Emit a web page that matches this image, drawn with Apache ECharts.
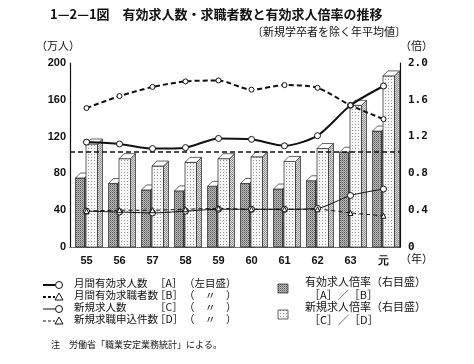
<!DOCTYPE html>
<html><head><meta charset="utf-8">
<script src="https://cdn.jsdelivr.net/npm/echarts@6/dist/echarts.min.js"></script>
<style>html,body{margin:0;padding:0;background:#fff}#c{width:474px;height:364px}</style>
</head><body><div id="c"></div>
<script>
const categories = ['55','56','57','58','59','60','61','62','63','元'];
const openingsA   = [114, 112, 107, 108, 118, 117, 110, 121, 154, 175];
const applicantsB = [151, 164, 174, 180, 181, 171, 176, 173, 154, 139];
const newOpeningsC = [39, 38, 37, 39, 41, 41, 41, 42, 56, 63];
const newApplicationsD = [39, 40, 40, 41, 42, 41, 41, 41, 37, 34];
const ratioAB = [0.75, 0.69, 0.62, 0.61, 0.66, 0.69, 0.63, 0.72, 1.03, 1.26];
const ratioCD = [1.12, 0.96, 0.88, 0.92, 0.96, 0.98, 0.93, 1.07, 1.54, 1.86];
const leftTicks = [0, 40, 80, 120, 160, 200];
const rightTicks = [0, 0.4, 0.8, 1.2, 1.6, 2.0];
const refLineValue = 103;

function makePattern(cells, size){
  const cv = document.createElement('canvas');
  cv.width = size; cv.height = size;
  const ctx = cv.getContext('2d');
  for (let y=0;y<size;y++) for (let x=0;x<size;x++){
    ctx.fillStyle = cells[y*size+x];
    ctx.fillRect(x,y,1,1);
  }
  return {image: cv, repeat: 'repeat'};
}
const darkFront = makePattern(['#555','#bbb','#bbb','#888'],2);
const lightFront = makePattern(['#f6f6f6','#f6f6f6','#f6f6f6','#f6f6f6','#999','#f6f6f6','#f6f6f6','#f6f6f6','#f6f6f6'],3);
const darkSide = makePattern(['#444','#888','#888','#555'],2);
const lightSide = makePattern(['#888','#ddd','#ddd','#999'],2);

function makeBar(dx, w, front, side, top){
  return function(params, api){
    const i = api.value(0), v = api.value(1);
    const p = api.coord([i, v]); const b = api.coord([i, 0]);
    const x0 = p[0] + dx, x1 = x0 + w, yt = p[1], yb = b[1], d = 5;
    const st = {stroke:'#222', lineWidth:0.7};
    return {type:'group', children:[
      {type:'polygon', shape:{points:[[x1,yt],[x1+d,yt-d],[x1+d,yb],[x1,yb]]}, style:Object.assign({fill:side}, st)},
      {type:'rect', shape:{x:x0,y:yt,width:w,height:yb-yt}, style:Object.assign({fill:front}, st)},
      {type:'polygon', shape:{points:[[x0,yt],[x0+d,yt-d],[x1+d,yt-d],[x1,yt]]}, style:Object.assign({fill:top}, st)}
    ]};
  };
}

const FONT = '"Noto Sans CJK JP", sans-serif';
const chart = echarts.init(document.getElementById('c'), null, {renderer:'canvas'});

const legendRows = [
  {name:'月間有効求人数', key:'［A］', note:'（左目盛）', dash:false, w:2, sym:'circle'},
  {name:'月間有効求職者数', key:'［B］', note:'（　〃　）', dash:true, w:2, sym:'triangle'},
  {name:'新規求人数', key:'［C］', note:'（　〃　）', dash:false, w:1, sym:'circle'},
  {name:'新規求職申込件数', key:'［D］', note:'（　〃　）', dash:true, w:1, sym:'triangle'}
];
const rowY = [285, 297, 309, 321];
const graphics = [];
legendRows.forEach((r, k) => {
  const y = rowY[k];
  graphics.push({type:'line', shape:{x1:43,y1:y,x2:55,y2:y}, style:{stroke:'#111', lineWidth:r.w, lineDash: r.dash?[3,2]:null}});
  if (r.sym === 'circle') graphics.push({type:'circle', shape:{cx:59,cy:y,r:3.5}, style:{fill:'#fff', stroke:'#111', lineWidth:1}});
  else graphics.push({type:'polygon', shape:{points:[[59,y-4],[55,y+3],[63,y+3]]}, style:{fill:'#fff', stroke:'#111', lineWidth:1}});
  graphics.push({type:'text', left:74, top:y-7, style:{text:r.name, font:'10.5px '+FONT, fill:'#111'}});
  graphics.push({type:'text', left:155, top:y-7, style:{text:r.key, font:'10.5px '+FONT, fill:'#111'}});
  graphics.push({type:'text', left:184, top:y-7, style:{text:r.note, font:'10.5px '+FONT, fill:'#111'}});
});
graphics.push({type:'rect', shape:{x:278,y:284,width:10,height:9}, style:{fill:darkFront, stroke:'#222', lineWidth:0.7}});
graphics.push({type:'rect', shape:{x:278,y:310,width:10,height:9}, style:{fill:lightFront, stroke:'#222', lineWidth:0.7}});
graphics.push({type:'text', left:305, top:276, style:{text:'有効求人倍率（右目盛）', font:'11px '+FONT, fill:'#111'}});
graphics.push({type:'text', left:309, top:289, style:{text:'［A］／［B］', font:'11px '+FONT, fill:'#111'}});
graphics.push({type:'text', left:305, top:301, style:{text:'新規求人倍率（右目盛）', font:'11px '+FONT, fill:'#111'}});
graphics.push({type:'text', left:309, top:314, style:{text:'［C］／［D］', font:'11px '+FONT, fill:'#111'}});
graphics.push({type:'text', left:51, top:340, style:{text:'注　労働省「職業安定業務統計」による。', font:'9px '+FONT, fill:'#111'}});
graphics.push({type:'text', left:50, top:8, style:{text:'1—2—1図　有効求人数・求職者数と有効求人倍率の推移', font:'bold 13px '+FONT, fill:'#111'}});
graphics.push({type:'text', left:252, top:26, style:{text:'〔新規学卒者を除く年平均値〕', font:'11px '+FONT, fill:'#111'}});
graphics.push({type:'text', left:36, top:40, style:{text:'（万人）', font:'11px '+FONT, fill:'#111'}});
graphics.push({type:'text', left:400, top:40, style:{text:'（倍）', font:'11px '+FONT, fill:'#111'}});
graphics.push({type:'text', left:400, top:253, style:{text:'（年）', font:'11px '+FONT, fill:'#111'}});

const option = {
  animation:false,
  backgroundColor:'#fff',
  textStyle:{fontFamily:FONT},
  grid:{left:70, right:74, top:63, bottom:117, show:false},
  xAxis:[{
    type:'category', data:categories, boundaryGap:true,
    axisLine:{lineStyle:{color:'#111', width:1.2}}, axisTick:{show:false},
    axisLabel:{color:'#111', fontSize:11, fontWeight:'bold', fontFamily:'Liberation Sans', margin:8}
  },{
    type:'category', data:categories, position:'top',
    axisLine:{lineStyle:{color:'#888', width:1, type:'dotted'}}, axisTick:{show:false}, axisLabel:{show:false}
  }],
  yAxis:[{
    type:'value', min:leftTicks[0], max:leftTicks[leftTicks.length-1], interval:40,
    axisLine:{show:true, lineStyle:{color:'#111', width:1.2}}, axisTick:{show:false}, splitLine:{show:false},
    axisLabel:{color:'#111', fontSize:11, fontWeight:'bold', fontFamily:'Liberation Sans', margin:4}
  },{
    type:'value', min:rightTicks[0], max:rightTicks[rightTicks.length-1], interval:0.4,
    axisLine:{show:true, lineStyle:{color:'#111', width:1.2}}, axisTick:{show:false}, splitLine:{show:false},
    axisLabel:{color:'#111', fontSize:11, fontWeight:'bold', fontFamily:'DejaVu Sans Mono', margin:8,
      formatter:v => v === 0 ? '0' : v.toFixed(1)}
  }],
  series:[
    {type:'custom', name:'有効求人倍率', yAxisIndex:1, z:1, renderItem:makeBar(-11, 9, darkFront, darkSide, '#fff'),
      data:ratioAB.map((v,i)=>[i,v]), encode:{x:0,y:1}},
    {type:'custom', name:'新規求人倍率', yAxisIndex:1, z:2, renderItem:makeBar(-0.5, 11.5, lightFront, lightSide, '#fff'),
      data:ratioCD.map((v,i)=>[i,v]), encode:{x:0,y:1}},
    {type:'line', name:'月間有効求人数', data:openingsA, z:5, smooth:0.25, symbol:'circle', symbolSize:6,
      lineStyle:{color:'#111', width:2}, itemStyle:{color:'#fff', borderColor:'#111', borderWidth:1},
      markLine:{silent:true, symbol:'none', label:{show:false}, lineStyle:{color:'#111', type:[5,3], width:1.5},
        data:[{yAxis:refLineValue}]}},
    {type:'line', name:'月間有効求職者数', data:applicantsB, z:5, smooth:0.25, symbol:'circle', symbolSize:5,
      lineStyle:{color:'#111', width:2, type:[5,3]}, itemStyle:{color:'#fff', borderColor:'#111', borderWidth:1}},
    {type:'line', name:'新規求人数', data:newOpeningsC, z:5, smooth:0.25, symbol:'circle', symbolSize:6,
      lineStyle:{color:'#111', width:1}, itemStyle:{color:'#fff', borderColor:'#111', borderWidth:1}},
    {type:'line', name:'新規求職申込件数', data:newApplicationsD, z:5, smooth:0.25, symbol:'triangle', symbolSize:5,
      lineStyle:{color:'#111', width:1, type:[4,3]}, itemStyle:{color:'#fff', borderColor:'#111', borderWidth:1}}
  ],
  graphic:graphics
};
chart.setOption(option);
</script></body></html>
